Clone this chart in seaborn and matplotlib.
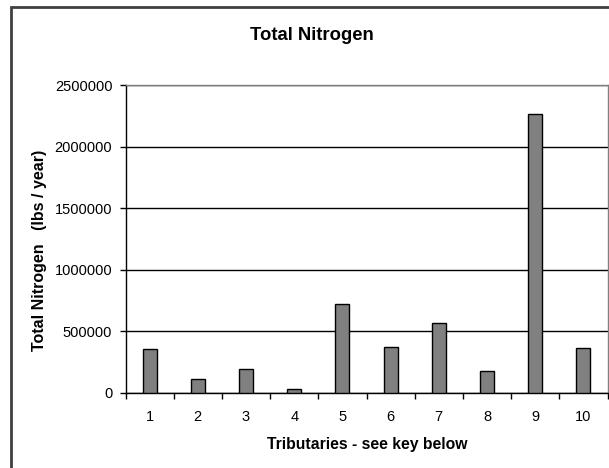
import matplotlib
matplotlib.use("Agg")
import matplotlib.pyplot as plt
import seaborn as sns
import pandas as pd
from matplotlib.patches import Rectangle
from matplotlib.ticker import FixedLocator

tributaries = ["1", "2", "3", "4", "5", "6", "7", "8", "9", "10"]
nitrogen = [356000, 113000, 192000, 35000, 725000, 375000, 569000, 181000, 2268000, 367000]
y_ticks = [0, 500000, 1000000, 1500000, 2000000, 2500000]

df = pd.DataFrame({"trib": tributaries, "n": nitrogen})

sns.set_theme(style="white")
plt.rcParams["font.family"] = ["Liberation Sans", "DejaVu Sans"]
plt.rcParams["text.color"] = "black"
plt.rcParams["xtick.color"] = "black"
plt.rcParams["ytick.color"] = "black"

fig = plt.figure(figsize=(6.09, 4.68), dpi=100)
ax = fig.add_axes([125.5 / 609, 1 - 393 / 468, (607.5 - 125.5) / 609, (393 - 85) / 468])

sns.barplot(data=df, x="trib", y="n", ax=ax, color="#808080", saturation=1,
            width=0.29, edgecolor="black", linewidth=1.0, zorder=3)

ax.set_xlim(-0.5, len(tributaries) - 0.5)
ax.set_ylim(0, 2500000)
ax.set_yticks(y_ticks)
ax.set_yticklabels([str(v) for v in y_ticks], fontsize=10.5)
ax.yaxis.grid(True, color="black", linewidth=1.0, zorder=0)
ax.xaxis.grid(False)

ax.set_xticks(range(len(tributaries)))
ax.set_xticklabels(tributaries, fontsize=10.5)
ax.xaxis.set_minor_locator(FixedLocator([i - 0.5 for i in range(len(tributaries) + 1)]))
ax.tick_params(axis="x", which="major", length=0, pad=12, labelcolor="black")
ax.tick_params(axis="x", which="minor", length=4.5, width=1, color="black", direction="out", bottom=True)
ax.tick_params(axis="y", which="major", length=4.5, width=1, color="black", direction="out",
               left=True, pad=5, labelcolor="black")

for side in ["top", "right"]:
    ax.spines[side].set_color("#808080")
    ax.spines[side].set_linewidth(1.0)
for side in ["left", "bottom"]:
    ax.spines[side].set_color("black")
    ax.spines[side].set_linewidth(1.0)

ax.set_xlabel("")
ax.set_ylabel("")

fig.text(312 / 609, 1 - 40.5 / 468, "Total Nitrogen", ha="center", va="baseline",
         fontsize=13.3, fontweight="bold", color="black")
fig.text(367 / 609, 1 - 444 / 468, "Tributaries - see key below", ha="center", va="center",
         fontsize=11.3, fontweight="bold", color="black")
fig.text(40 / 609, 1 - 250 / 468, "Total Nitrogen   (lbs / year)", ha="center", va="center",
         rotation=90, fontsize=11.5, fontweight="bold", color="black")

fig.patches.append(Rectangle((10.5 / 609, -0.05), 1.0, 1 - 7.5 / 468 + 0.05,
                             transform=fig.transFigure, fill=False,
                             edgecolor="#404040", linewidth=2))

fig.savefig("out.png", dpi=100)
